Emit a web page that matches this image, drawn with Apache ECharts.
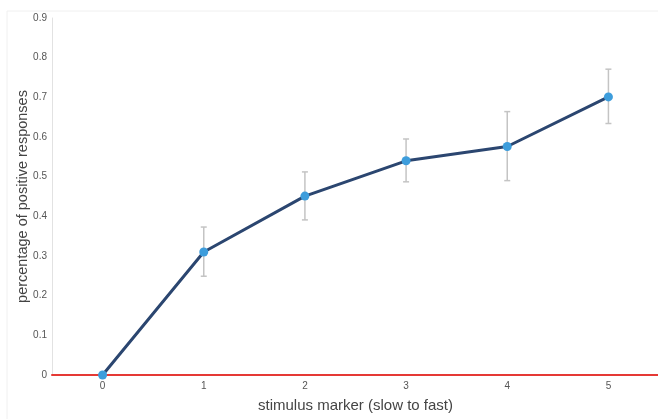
<!DOCTYPE html>
<html>
<head>
<meta charset="utf-8">
<script src="https://cdn.jsdelivr.net/npm/echarts@6/dist/echarts.min.js"></script>
<style>html,body{margin:0;padding:0;background:#fff;}#c{width:658px;height:419px;}</style>
</head>
<body>
<div id="c"></div>
<script>
const xValues = ['0', '1', '2', '3', '4', '5'];
const yValues = [0, 0.310, 0.451, 0.540, 0.576, 0.701];
const errLow = [0, 0.249, 0.391, 0.487, 0.490, 0.634];
const errHigh = [0, 0.373, 0.512, 0.595, 0.664, 0.771];
const yTicks = [0, 0.1, 0.2, 0.3, 0.4, 0.5, 0.6, 0.7, 0.8, 0.9];

const chart = echarts.init(document.getElementById('c'), null, {renderer: 'canvas'});
const errData = xValues.slice(1).map((x, i) => [i + 1, errLow[i + 1], errHigh[i + 1]]);

chart.setOption({
  animation: false,
  graphic: [
    {type: 'line', shape: {x1: 7, y1: 11, x2: 658, y2: 11}, style: {stroke: '#f0f0f0', lineWidth: 1}},
    {type: 'line', shape: {x1: 7, y1: 11, x2: 7, y2: 419}, style: {stroke: '#f0f0f0', lineWidth: 1}}
  ],
  grid: {left: 52, right: -1, top: 18, bottom: 44, containLabel: false, outerBoundsMode: 'none'},
  xAxis: {
    type: 'category', data: xValues, boundaryGap: true,
    name: 'stimulus marker (slow to fast)', nameLocation: 'middle', nameGap: 23,
    nameTextStyle: {fontFamily: 'Liberation Sans', fontSize: 15, color: '#444'},
    axisLine: {show: true, onZero: false, lineStyle: {color: '#e53935', width: 2}},
    axisTick: {show: false},
    splitLine: {show: false},
    axisLabel: {fontFamily: 'Liberation Sans', fontSize: 10, color: '#555', margin: 6}
  },
  yAxis: {
    type: 'value', min: 0, max: 0.9, interval: 0.1,
    name: 'percentage of positive responses', nameLocation: 'middle', nameGap: 22,
    nameMoveOverlap: false,
    nameTextStyle: {fontFamily: 'Liberation Sans', fontSize: 14.5, color: '#444'},
    axisLine: {show: true, onZero: false, lineStyle: {color: '#e2e2e2', width: 1}},
    axisTick: {show: false},
    splitLine: {show: false},
    axisLabel: {
      fontFamily: 'Liberation Sans', fontSize: 10, color: '#555', margin: 5,
      formatter: v => { const t = yTicks.find(k => Math.abs(k - v) < 1e-6); return t === 0 ? '0' : (t !== undefined ? t.toFixed(1) : ''); }
    }
  },
  series: [
    {
      type: 'custom',
      data: errData,
      z: 1,
      renderItem: function (params, api) {
        const x = api.value(0);
        const lo = api.coord([x, api.value(1)]);
        const hi = api.coord([x, api.value(2)]);
        const cap = 3;
        const st = {stroke: '#c4c4c4', lineWidth: 1.5};
        return {
          type: 'group',
          children: [
            {type: 'line', shape: {x1: lo[0], y1: lo[1], x2: hi[0], y2: hi[1]}, style: st},
            {type: 'line', shape: {x1: lo[0] - cap, y1: lo[1], x2: lo[0] + cap, y2: lo[1]}, style: st},
            {type: 'line', shape: {x1: hi[0] - cap, y1: hi[1], x2: hi[0] + cap, y2: hi[1]}, style: st}
          ]
        };
      }
    },
    {
      type: 'line',
      data: yValues,
      z: 5,
      symbol: 'circle',
      symbolSize: 9,
      lineStyle: {color: '#2b4670', width: 3},
      itemStyle: {color: '#3d9ddc', borderWidth: 0}
    }
  ]
});
</script>
</body>
</html>
